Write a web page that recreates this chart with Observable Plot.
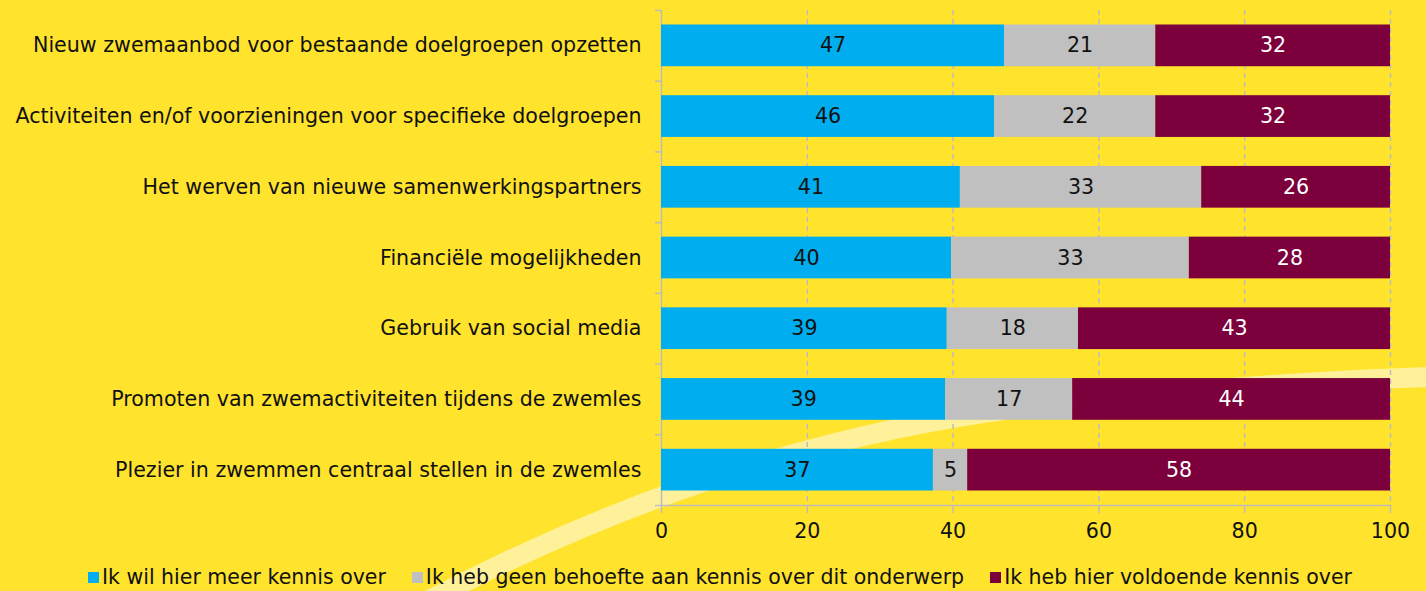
<!DOCTYPE html>
<html>
<head>
<meta charset="utf-8">
<script src="https://cdn.jsdelivr.net/npm/d3@7"></script>
<script src="https://cdn.jsdelivr.net/npm/@observablehq/plot@0.6"></script>
<style>
  html, body { margin: 0; padding: 0; }
  body { width: 1426px; height: 591px; background: #FFE32D; position: relative; overflow: hidden;
         font-family: "DejaVu Sans", sans-serif; }
  #deco { position: absolute; left: 0; top: 0; }
  #chart { position: absolute; left: 0; top: 0; }
  #legend { position: absolute; left: 7px; top: 565px; width: 1426px; display: flex; justify-content: center;
            gap: 26px; font-size: 20.5px; color: #111; }
  #legend .item { display: flex; align-items: center; gap: 3px; }
  #legend .sw { width: 11px; height: 11px; display: inline-block; }
</style>
</head>
<body>
<!-- decorative light stripe in the background -->
<svg id="deco" width="1426" height="591">
  <path d="M 420 605 Q 760 425 1100 400 Q 1300 380 1440 377" fill="none" stroke="#FFF19A" stroke-width="20"/>
</svg>
<div id="chart"></div>
<div id="legend"></div>
<script>
const categories = [
  "Nieuw zwemaanbod voor bestaande doelgroepen opzetten",
  "Activiteiten en/of voorzieningen voor specifieke doelgroepen",
  "Het werven van nieuwe samenwerkingspartners",
  "Financiële mogelijkheden",
  "Gebruik van social media",
  "Promoten van zwemactiviteiten tijdens de zwemles",
  "Plezier in zwemmen centraal stellen in de zwemles"
];
const series = [
  "Ik wil hier meer kennis over",
  "Ik heb geen behoefte aan kennis over dit onderwerp",
  "Ik heb hier voldoende kennis over"
];
const meerKennis   = [47.05, 45.7, 41.0, 39.8, 39.2, 39.0, 37.3];
const geenBehoefte = [20.75, 22.1, 33.1, 32.6, 18.0, 17.4, 4.7];
const voldoende    = [32.2, 32.2, 25.9, 27.6, 42.8, 43.6, 58.0];
const colors = ["#00AEEF", "#C0C0C0", "#7B003C"];
const labelColors = ["#111", "#111", "#fff"];
const xTicks = [0, 20, 40, 60, 80, 100];

const data = [];
[meerKennis, geenBehoefte, voldoende].forEach((arr, si) => {
  arr.forEach((v, ci) => data.push({cat: categories[ci], series: series[si], value: v, si}));
});

const W = 1426, H = 552;
const mTop = 10, mBottom = 47, mLeft = 661, mRight = 36;
const step = (H - mTop - mBottom) / categories.length;
const gray = "#BDBDBD";
const fs = 20.6;

const plot = Plot.plot({
  width: W, height: H,
  marginTop: mTop, marginBottom: mBottom, marginLeft: mLeft, marginRight: mRight,
  style: {background: "transparent", fontFamily: "DejaVu Sans, sans-serif", fontSize: fs + "px", color: "#111"},
  x: {domain: [0, 100]},
  y: {domain: categories, paddingInner: 0.41, paddingOuter: 0.205, round: false, label: null},
  color: {domain: series, range: colors},
  marks: [
    Plot.gridX(xTicks.slice(1), {stroke: gray, strokeOpacity: 1, strokeDasharray: "5,4", strokeWidth: 1.5}),
    Plot.ruleX([0], {stroke: gray, strokeWidth: 1.5}),
    Plot.frame({anchor: "bottom", stroke: gray, strokeWidth: 1.5}),
    Plot.barX(data, Plot.stackX({x: "value", y: "cat", fill: "series", order: series})),
    Plot.textX(data, Plot.stackX({x: "value", y: "cat", z: "series", order: series,
      text: d => String(Math.round(d.value)),
      fill: d => labelColors[d.si], fontSize: fs})),
    Plot.axisX({ticks: xTicks, tickSize: 8, tickPadding: 10, stroke: gray, strokeWidth: 1.5, label: null, fontSize: fs, fill: "#111"}),
    Plot.axisY({tickSize: 0, tickPadding: 20, label: null, fontSize: fs, fill: "#111"}),
    Plot.axisY({tickSize: 6, text: null, label: null, dy: -step / 2, stroke: gray, strokeWidth: 1.5}),
    Plot.axisY({ticks: categories.slice(-1), tickSize: 6, text: null, label: null, dy: step / 2, stroke: gray, strokeWidth: 1.5})
  ]
});
document.getElementById("chart").appendChild(plot);

const legend = document.getElementById("legend");
series.forEach((s, i) => {
  const item = document.createElement("div");
  item.className = "item";
  item.innerHTML = `<span class="sw" style="background:${colors[i]}"></span><span>${s}</span>`;
  legend.appendChild(item);
});
</script>
</body>
</html>
